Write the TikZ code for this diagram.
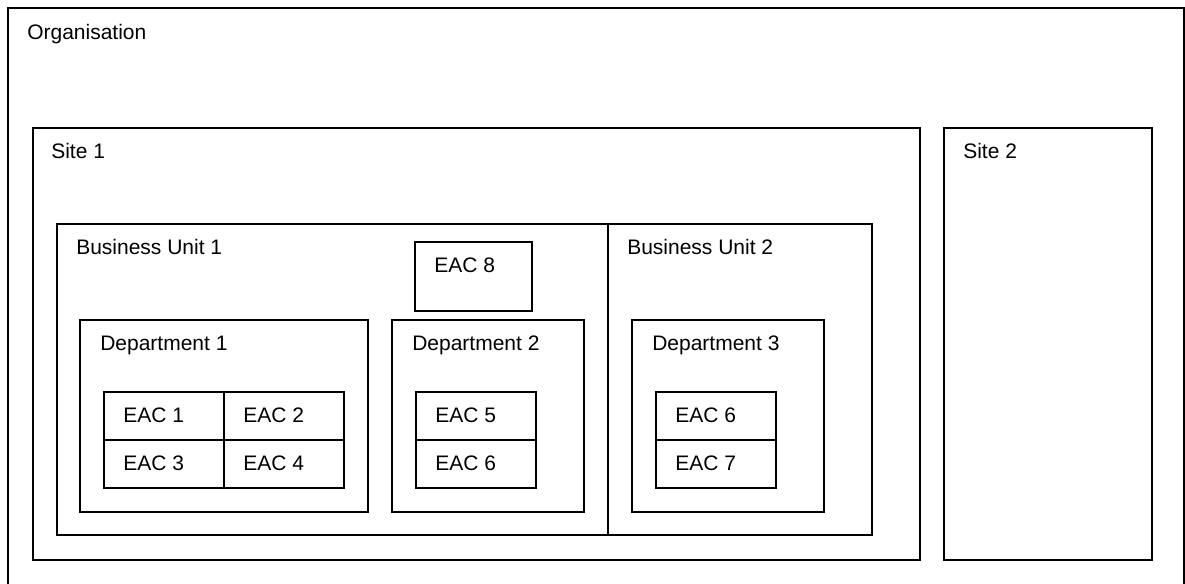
\documentclass[tikz,border=0pt]{standalone}
\usepackage{fontspec}
\setmainfont{Liberation Sans}
\tikzset{
  box/.style={line width=1.5pt},
  cell/.style={line width=1.3pt},
  lbl/.style={anchor=base west, inner sep=0pt, font=\fontsize{15.75}{19}\selectfont}
}
\begin{document}
\begin{tikzpicture}[x=0.75pt,y=-0.75pt]
        \useasboundingbox (0,0) rectangle (1185,583);
        % organisation, open at the bottom of the page
        \draw[box] (8,584) -- (8,8) -- (1184,8) -- (1184,584);
        \node[lbl] (org) at (27,39) {Organisation};
        % sites
        \draw[box] (33,128) rectangle (920,560);
        \node[lbl] (site1) at (51,158) {Site 1};
        \draw[box] (944,128) rectangle (1152,560);
        \node[lbl] (site2) at (963,158) {Site 2};
        % business units
        \draw[box] (57,224) rectangle (872,535);
        \draw[box] (608,224) -- (608,535);
        \node[lbl] (bu1) at (76,254) {Business Unit 1};
        \node[lbl] (bu2) at (627,254) {Business Unit 2};
        \draw[box] (415,242) rectangle (532,311);
        \node[lbl] (eac8) at (434,272) {EAC 8};
        % departments
        \draw[box] (80,320) rectangle (368,512);
        \node[lbl] (dep1) at (100,350) {Department 1};
        \draw[box] (392,320) rectangle (584,512);
        \node[lbl] (dep2) at (412,350) {Department 2};
        \draw[box] (632,320) rectangle (824,512);
        \node[lbl] (dep3) at (652,350) {Department 3};
        % EAC cells
        \draw[cell] (104,392) rectangle (344,488);
        \draw[cell] (224,392) -- (224,488);
        \draw[cell] (104,440) -- (344,440);
        \node[lbl] (eac1) at (123,422) {EAC 1};
        \node[lbl] (eac2) at (243,422) {EAC 2};
        \node[lbl] (eac3) at (123,470) {EAC 3};
        \node[lbl] (eac4) at (243,470) {EAC 4};
        \draw[cell] (416,392) rectangle (536,488);
        \draw[cell] (416,440) -- (536,440);
        \node[lbl] (eac5) at (435,422) {EAC 5};
        \node[lbl] (eac6a) at (435,470) {EAC 6};
        \draw[cell] (656,392) rectangle (776,488);
        \draw[cell] (656,440) -- (776,440);
        \node[lbl] (eac6b) at (675,422) {EAC 6};
        \node[lbl] (eac7) at (675,470) {EAC 7};
\end{tikzpicture}
\end{document}
